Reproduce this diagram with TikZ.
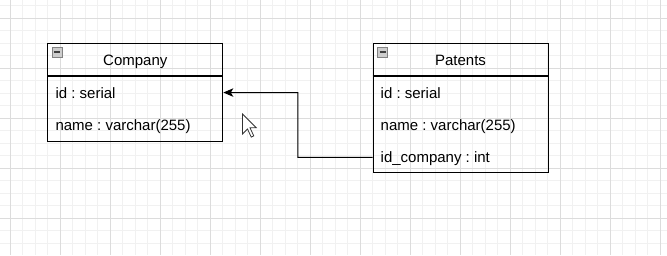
\documentclass[tikz,border=0pt]{standalone}
\usepackage{fontspec}
\setmainfont{Liberation Sans}
\usepackage{tikz}
\usetikzlibrary{positioning,arrows.meta,calc}
\usepackage{xcolor}
\definecolor{gridminor}{RGB}{241,241,241}
\definecolor{gridmajor}{RGB}{220,220,220}
\definecolor{iconfill}{RGB}{205,205,205}
\definecolor{iconline}{RGB}{130,130,130}
\frenchspacing

\tikzset{
  entity/.style={draw, line width=1pt, minimum width=175pt, inner sep=0pt, anchor=north west},
  title/.style={anchor=base, inner sep=0pt},
  field/.style={anchor=base west, inner sep=0pt, text height=12pt, text depth=2pt},
  fk/.style={line width=1pt, -{Stealth[length=10pt, width=8.5pt, inset=2.5pt]}}
}

\begin{document}
\begin{tikzpicture}[x=1pt, y=-1pt, font=\fontsize{15}{18}\selectfont]
\useasboundingbox[fill=white] (0,0) rectangle (667,255);
% background grid
\foreach \x in {10,22.5,...,661} \draw[gridminor, line width=0.8pt] (\x,0) -- (\x,255);
\foreach \y in {5.5,18,...,255} \draw[gridminor, line width=0.8pt] (0,\y) -- (667,\y);
\foreach \x in {10,60,...,661} \draw[gridmajor, line width=0.8pt] (\x,0) -- (\x,255);
\foreach \y in {18,68,...,255} \draw[gridmajor, line width=0.8pt] (0,\y) -- (667,\y);

% tables
\node[entity, minimum height=97.5pt] (company) at (47.3,43.3) {};
\node[entity, minimum height=129pt] (patents) at (372.5,43.3) {};
\foreach \t in {company,patents} {
  \draw[line width=1.8pt] ($(\t.north west)+(0,32.5)$) -- ($(\t.north east)+(0,32.5)$);
  \draw[iconline, fill=iconfill, line width=0.8pt] ($(\t.north west)+(5,3.6)$) rectangle ++(10,10);
  \draw[black!75, line width=1.5pt] ($(\t.north west)+(7,8.6)$) -- ++(6,0);
}
\node[title] (companyname) at ($(company.north)+(0,22.3)$) {Company};
\node[title] (patentsname) at ($(patents.north)+(0,22.3)$) {Patents};

% fields
\node[field] (cid) at ($(company.north west)+(8,55)$) {id : serial};
\node[field] (cname) at ($(cid.base west)+(0,32)$) {name : varchar(255)};
\node[field] (pid) at ($(patents.north west)+(8,55)$) {id : serial};
\node[field] (pname) at ($(pid.base west)+(0,32)$) {name : varchar(255)};
\node[field] (pcompany) at ($(pname.base west)+(0,32)$) {id\_company : int};

% foreign key
\coordinate (bend) at ($(company.east)!0.5!(company.east -| patents.west)$);
\draw[fk] (pcompany.west -| patents.west) -| (bend) -- (company.east);

% mouse pointer
\draw[black!80, fill=white, line width=0.8pt, line join=miter, shift={(242.5,114)}, scale=1.25]
  (0,0) -- (0,16) -- (4,12) -- (7,18.5) -- (9,17.5) -- (6,11) -- (11,11) -- cycle;
\end{tikzpicture}
\end{document}
